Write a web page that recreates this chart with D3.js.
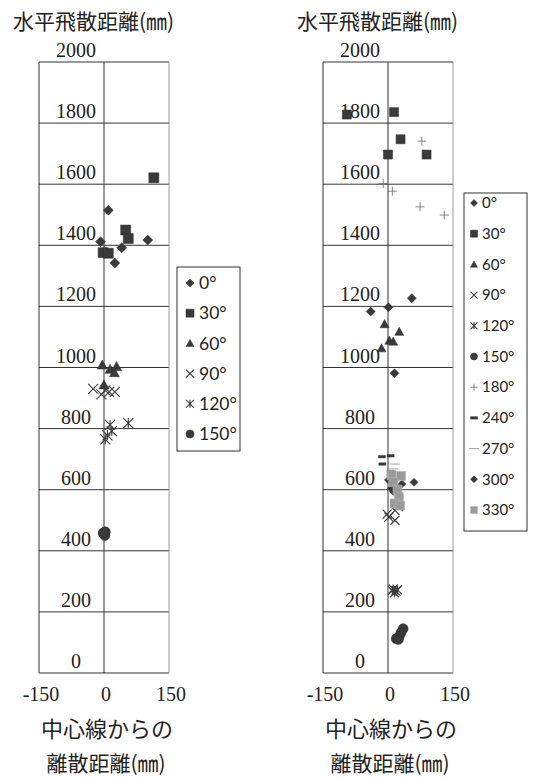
<!DOCTYPE html>
<html>
<head>
<meta charset="utf-8">
<script src="https://cdn.jsdelivr.net/npm/d3@7"></script>
<style>
  body { margin: 0; background: #fff; }
</style>
</head>
<body>
<script>
// tick values
var yTicks = [0, 200, 400, 600, 800, 1000, 1200, 1400, 1600, 1800, 2000];
var xTicks = [-150, 0, 150];

// left chart: [lateral mm, horizontal mm]
var leftNames = ["0°", "30°", "60°", "90°", "120°", "150°"];
var left0 = [[10, 1515], [-8, 1412], [41, 1392], [101, 1417], [25, 1342]];
var left30 = [[115, 1621], [50, 1450], [56, 1422], [-2, 1376], [10, 1374]];
var left60 = [[-4, 1008], [14, 994], [29, 1003], [24, 983], [0, 943]];
var left90 = [[-25, 930], [-6, 912], [12, 920], [25, 920], [3, 925]];
var left120 = [[14, 812], [56, 818], [18, 792], [8, 778], [3, 765]];
var left150 = [[0, 455], [3, 462], [-2, 458], [2, 450], [1, 460]];

// right chart
var rightNames = ["0°", "30°", "60°", "90°", "120°", "150°", "180°", "240°", "270°", "300°", "330°"];
var right0 = [[55, 1227], [1, 1197], [-40, 1183], [15, 981]];
var right30 = [[-95, 1828], [14, 1836], [29, 1747], [0, 1697], [89, 1697]];
var right60 = [[-8, 1142], [26, 1117], [3, 1088], [12, 1085], [-15, 1063]];
var right90 = [[-2, 520], [16, 532], [16, 500], [24, 545], [2, 510]];
var right120 = [[10, 270], [18, 268], [15, 262], [22, 272], [12, 275]];
var right150 = [[35, 145], [30, 132], [26, 120], [19, 112], [24, 110]];
var right180 = [[78, 1741], [-11, 1602], [10, 1577], [74, 1526], [130, 1499]];
var right240 = [[-14, 708], [6, 711], [-13, 684], [6, 659]];
var right270 = [[16, 684], [7, 648], [24, 652], [12, 668]];
var right300 = [[1, 632], [32, 619], [60, 624], [8, 605], [12, 595]];
var right330 = [[8, 648], [30, 645], [12, 625], [22, 600], [25, 575], [15, 555], [28, 548]];

var markerTypes = {
  "0°": "diamond", "30°": "square", "60°": "triangle", "90°": "x", "120°": "asterisk",
  "150°": "circle", "180°": "plus", "240°": "dash", "270°": "longdash", "300°": "diamond", "330°": "graysquare"
};

var svg = d3.select("body").append("svg")
  .attr("width", 533)
  .attr("height", 779);

var cjk = "'Noto Sans CJK JP', sans-serif";
var serif = "'Liberation Serif', 'DejaVu Serif', serif";

function markerPath(type, s) {
  if (type == "diamond") return "M0," + (-s) + "L" + s + ",0L0," + s + "L" + (-s) + ",0Z";
  if (type == "square" || type == "graysquare") return "M" + (-s) + "," + (-s) + "h" + (2 * s) + "v" + (2 * s) + "h" + (-2 * s) + "Z";
  if (type == "triangle") return "M0," + (-s) + "L" + s + "," + (s * 0.8) + "L" + (-s) + "," + (s * 0.8) + "Z";
  if (type == "x") return "M" + (-s) + "," + (-s) + "L" + s + "," + s + "M" + (-s) + "," + s + "L" + s + "," + (-s);
  if (type == "asterisk") return "M" + (-s) + "," + (-s) + "L" + s + "," + s + "M" + (-s) + "," + s + "L" + s + "," + (-s) + "M0," + (-s) + "V" + s;
  if (type == "circle") return "M" + s + ",0A" + s + "," + s + " 0 1,1 " + (-s) + ",0A" + s + "," + s + " 0 1,1 " + s + ",0Z";
  if (type == "plus") return "M" + (-s) + ",0H" + s + "M0," + (-s) + "V" + s;
  if (type == "dash") return "M-3.5,-1.2h7v2.4h-7Z";
  if (type == "longdash") return "M-5,0H5";
  return "";
}

function styleMarker(sel, type) {
  var stroked = (type == "x" || type == "asterisk" || type == "plus" || type == "longdash");
  if (stroked) {
    sel.attr("fill", "none")
      .attr("stroke", type == "plus" ? "#777" : (type == "longdash" ? "#999" : "#3a3a3a"))
      .attr("stroke-width", type == "plus" || type == "longdash" ? 0.9 : 1.1);
  } else if (type == "graysquare") {
    sel.attr("fill", "#9a9a9a").attr("stroke", "#b5b5b5").attr("stroke-width", 0.6);
  } else {
    sel.attr("fill", "#3a3a3a").attr("stroke", "#2a2a2a").attr("stroke-width", 0.5);
  }
}

function drawPanel(opt) {
  var x = d3.scaleLinear().domain([-150, 150]).range([opt.left, opt.left + 130]);
  var y = d3.scaleLinear().domain([0, 2000]).range([673, 62]);
  var g = svg.append("g");

  // horizontal grid lines
  g.selectAll(".grid")
    .data(yTicks)
    .enter()
    .append("line")
    .attr("x1", x(-150))
    .attr("x2", x(150))
    .attr("y1", function (d) { return y(d); })
    .attr("y2", function (d) { return y(d); })
    .attr("stroke", "#333")
    .attr("stroke-width", 1);

  // plot borders and centre line
  g.append("line").attr("x1", x(-150)).attr("x2", x(-150)).attr("y1", y(0)).attr("y2", y(2000))
    .attr("stroke", "#333").attr("stroke-width", 1);
  g.append("line").attr("x1", x(150)).attr("x2", x(150)).attr("y1", y(0)).attr("y2", y(2000))
    .attr("stroke", "#999").attr("stroke-width", 1);
  g.append("line").attr("x1", x(0)).attr("x2", x(0)).attr("y1", y(0)).attr("y2", y(2000))
    .attr("stroke", "#333").attr("stroke-width", 1);

  // y tick labels (sit just above each grid line)
  g.selectAll(".ylab")
    .data(yTicks)
    .enter()
    .append("text")
    .attr("x", opt.left + 37)
    .attr("y", function (d) { return y(d) - 5; })
    .attr("text-anchor", "middle")
    .style("font-family", serif)
    .style("font-size", "20px")
    .style("fill", "#222")
    .text(function (d) { return d; });

  // x tick labels
  g.selectAll(".xlab")
    .data(xTicks)
    .enter()
    .append("text")
    .attr("x", function (d) { return x(d) + 2; })
    .attr("y", 701)
    .attr("text-anchor", "middle")
    .style("font-family", serif)
    .style("font-size", "20px")
    .style("fill", "#222")
    .text(function (d) { return d; });

  // titles
  g.append("text")
    .attr("x", opt.left - 26)
    .attr("y", 29)
    .style("font-family", cjk)
    .style("font-size", "21px")
    .style("fill", "#222")
    .text("水平飛散距離(㎜)");
  g.append("text")
    .attr("x", x(0) + 3)
    .attr("y", 737)
    .attr("text-anchor", "middle")
    .style("font-family", cjk)
    .style("font-size", "22px")
    .style("fill", "#222")
    .text("中心線からの");
  g.append("text")
    .attr("x", x(0) + 2)
    .attr("y", 771)
    .attr("text-anchor", "middle")
    .style("font-family", cjk)
    .style("font-size", "21px")
    .style("fill", "#222")
    .text("離散距離(㎜)");

  // points
  opt.series.forEach(function (s) {
    var type = markerTypes[s.name];
    var size = s.name == "300°" ? 4 : (type == "circle" ? 5 : (type == "square" ? opt.sq : opt.ps));
    var pts = g.append("g").selectAll("path")
      .data(s.pts)
      .enter()
      .append("path")
      .attr("transform", function (d) { return "translate(" + x(d[0]) + "," + y(d[1]) + ")"; })
      .attr("d", markerPath(type, size));
    styleMarker(pts, type);
  });

  // legend
  var lg = svg.append("g").attr("transform", "translate(" + opt.lx + "," + opt.ly + ")");
  lg.append("rect")
    .attr("width", opt.lw)
    .attr("height", opt.lh)
    .attr("fill", "#fff")
    .attr("stroke", "#333")
    .attr("stroke-width", 1);
  var items = lg.selectAll(".item")
    .data(opt.series)
    .enter()
    .append("g")
    .attr("transform", function (d, i) { return "translate(" + opt.mx + "," + (opt.first + i * opt.step) + ")"; });
  items.each(function (d) {
    var type = markerTypes[d.name];
    var m = d3.select(this).append("path").attr("d", markerPath(type, opt.ms));
    styleMarker(m, type);
  });
  items.append("text")
    .attr("x", opt.tx)
    .attr("y", 0)
    .attr("dy", "0.35em")
    .style("font-family", "Lato, 'Open Sans', sans-serif")
    .style("font-size", opt.fs + "px")
    .style("fill", "#222")
    .text(function (d) { return d.name; });
}

var leftData = [left0, left30, left60, left90, left120, left150];
var rightData = [right0, right30, right60, right90, right120, right150, right180, right240, right270, right300, right330];

drawPanel({
  left: 39, sq: 5, ps: 5,
  series: leftNames.map(function (n, i) { return { name: n, pts: leftData[i] }; }),
  lx: 177, ly: 267, lw: 63, lh: 184, mx: 13, first: 16, step: 30.2, ms: 4, tx: 9, fs: 17.5
});
drawPanel({
  left: 323, sq: 4.5, ps: 4.5,
  series: rightNames.map(function (n, i) { return { name: n, pts: rightData[i] }; }),
  lx: 464, ly: 193, lw: 63, lh: 338, mx: 10, first: 10, step: 30.7, ms: 3.5, tx: 8, fs: 15
});
</script>
</body>
</html>
